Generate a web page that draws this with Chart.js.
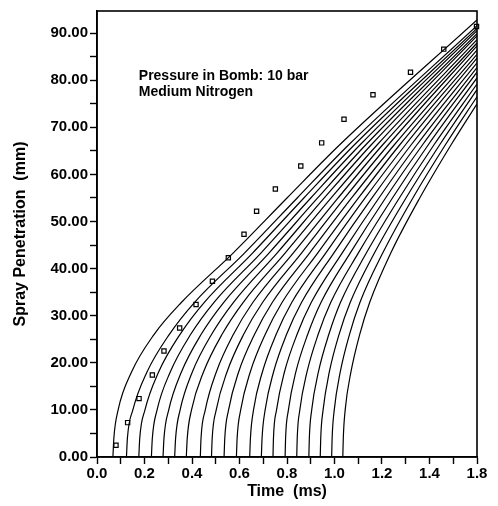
<!DOCTYPE html>
<html lang="en">
<head>
  <meta charset="UTF-8">
  <title>Spray Penetration</title>
  <script src="https://cdn.jsdelivr.net/npm/chart.js"></script>
  <style>
    body {
      margin: 0;
      background: white;
    }
    canvas {
      display: block;
    }
  </style>
</head>
<body>
  <canvas id="sprayChart" width="498" height="506"></canvas>

  <script>
    const penLevels = [0, 4, 10, 18, 26, 32.8, 43.3, 55, 66.3];

    // Time (ms) where each curve reaches the levels above (one row per curve)
    const curveTimes = [
      [0.067, 0.071, 0.089, 0.145, 0.240, 0.355, 0.573, 0.800, 1.022],
      [0.124, 0.128, 0.151, 0.210, 0.304, 0.410, 0.621, 0.843, 1.060],
      [0.176, 0.180, 0.202, 0.259, 0.349, 0.451, 0.655, 0.871, 1.084],
      [0.229, 0.233, 0.253, 0.308, 0.394, 0.492, 0.690, 0.900, 1.108],
      [0.278, 0.282, 0.302, 0.355, 0.438, 0.533, 0.724, 0.929, 1.132],
      [0.327, 0.331, 0.350, 0.401, 0.482, 0.574, 0.758, 0.957, 1.155],
      [0.376, 0.380, 0.398, 0.448, 0.526, 0.615, 0.792, 0.986, 1.180],
      [0.435, 0.438, 0.456, 0.502, 0.574, 0.656, 0.826, 1.015, 1.203],
      [0.482, 0.485, 0.502, 0.547, 0.617, 0.697, 0.861, 1.043, 1.227],
      [0.535, 0.538, 0.554, 0.596, 0.663, 0.738, 0.895, 1.072, 1.252],
      [0.587, 0.590, 0.605, 0.645, 0.708, 0.779, 0.929, 1.101, 1.275],
      [0.643, 0.646, 0.659, 0.696, 0.754, 0.820, 0.963, 1.129, 1.299],
      [0.692, 0.695, 0.708, 0.743, 0.798, 0.861, 0.997, 1.158, 1.323],
      [0.741, 0.743, 0.756, 0.789, 0.842, 0.902, 1.032, 1.187, 1.347],
      [0.792, 0.794, 0.806, 0.837, 0.887, 0.943, 1.066, 1.215, 1.371],
      [0.841, 0.843, 0.854, 0.884, 0.931, 0.984, 1.100, 1.244, 1.395],
      [0.892, 0.894, 0.904, 0.932, 0.976, 1.025, 1.134, 1.273, 1.419],
      [0.940, 0.942, 0.952, 0.978, 1.019, 1.066, 1.168, 1.301, 1.443],
      [0.988, 0.990, 0.999, 1.024, 1.063, 1.107, 1.203, 1.330, 1.467],
      [1.035, 1.037, 1.045, 1.069, 1.106, 1.148, 1.237, 1.359, 1.491]
    ];

    // Where each curve leaves the plot at the right edge
    const endTime = 1.6;
    const endPen = [92.8, 91.6, 91.0, 90.5, 89.9, 89.4, 88.6, 87.9, 87.3, 86.4,
                    85.5, 84.7, 83.7, 82.7, 81.7, 80.5, 79.2, 78.0, 76.5, 75.0];

    // Measured points (square markers)
    const measTime = [0.080, 0.129, 0.177, 0.233, 0.282, 0.348, 0.417, 0.486, 0.553, 0.619,
                      0.672, 0.751, 0.858, 0.946, 1.040, 1.162, 1.320, 1.460, 1.598];
    const measPen = [2.5, 7.3, 12.4, 17.4, 22.5, 27.4, 32.4, 37.3, 42.3, 47.3,
                     52.2, 56.9, 61.8, 66.7, 71.7, 76.9, 81.7, 86.6, 91.4];

    // Labels printed under every second x tick (the original prints 1.8 at the end)
    const xTickLabels = ['0.0', '0.2', '0.4', '0.6', '0.8', '1.0', '1.2', '1.4', '1.8'];

    const FONT = "'Liberation Sans', Arial, sans-serif";

    const datasets = curveTimes.map((row, i) => {
      const pts = row.map((t, k) => ({ x: t, y: penLevels[k] }));
      pts.push({ x: endTime, y: endPen[i] });
      return {
        data: pts,
        showLine: true,
        borderColor: 'black',
        borderWidth: 1.2,
        pointRadius: 0,
        cubicInterpolationMode: 'monotone'
      };
    });

    datasets.push({
      data: measTime.map((t, i) => ({ x: t, y: measPen[i] })),
      showLine: false,
      pointStyle: 'rect',
      pointRadius: 3,
      pointBorderWidth: 1.2,
      pointBorderColor: 'black',
      pointBackgroundColor: 'white',
      clip: false
    });

    // Frame round the plot and the annotation text
    const framePlugin = {
      id: 'frame',
      afterDraw(chart) {
        const { ctx, chartArea, scales } = chart;
        ctx.save();
        ctx.strokeStyle = 'black';
        ctx.lineWidth = 1.6;
        ctx.strokeRect(chartArea.left, chartArea.top,
                       chartArea.right - chartArea.left, chartArea.bottom - chartArea.top);
        ctx.fillStyle = 'black';
        ctx.font = "bold 14px " + FONT;
        ctx.textAlign = 'left';
        ctx.textBaseline = 'alphabetic';
        const tx = scales.x.getPixelForValue(0.176);
        ctx.fillText('Pressure in Bomb: 10 bar', tx, scales.y.getPixelForValue(80.1));
        ctx.fillText('Medium Nitrogen', tx, scales.y.getPixelForValue(76.7));
        ctx.restore();
      }
    };

    const sprayChart = new Chart(document.getElementById('sprayChart'), {
      type: 'scatter',
      data: { datasets: datasets },
      options: {
        responsive: false,
        animation: false,
        layout: { padding: { left: 0, right: 21, top: 5, bottom: 0 } },
        plugins: {
          legend: { display: false },
          tooltip: { enabled: false }
        },
        scales: {
          x: {
            min: 0,
            max: 1.6,
            afterFit: (scale) => { scale.height = 49; },
            ticks: {
              stepSize: 0.1,
              includeBounds: false,
              autoSkip: false,
              maxRotation: 0,
              padding: 1,
              color: 'black',
              font: { family: FONT, size: 15, weight: 'bold' },
              callback: (value) => {
                const n = Math.round(value * 10);
                return n % 2 === 0 ? xTickLabels[n / 2] : '';
              }
            },
            grid: { drawOnChartArea: false, tickLength: 7, color: 'black', tickWidth: 1.4 },
            border: { color: 'black', width: 1.6 },
            title: {
              display: true,
              text: 'Time  (ms)',
              color: 'black',
              font: { family: FONT, size: 16, weight: 'bold' },
              padding: { top: 0, bottom: 5 }
            }
          },
          y: {
            min: 0,
            max: 94.7,
            afterFit: (scale) => { scale.width = 97; },
            ticks: {
              stepSize: 5,
              includeBounds: false,
              autoSkip: false,
              padding: 2,
              color: 'black',
              font: { family: FONT, size: 15, weight: 'bold' },
              callback: (value) => (Math.round(value) % 10 === 0 ? value.toFixed(2) : '')
            },
            grid: { drawOnChartArea: false, tickLength: 7, color: 'black', tickWidth: 1.4 },
            border: { color: 'black', width: 1.6 },
            title: {
              display: true,
              text: 'Spray Penetration  (mm)',
              color: 'black',
              font: { family: FONT, size: 16, weight: 'bold' },
              padding: { top: 11, bottom: 0 }
            }
          }
        }
      },
      plugins: [framePlugin]
    });
  </script>
</body>
</html>
